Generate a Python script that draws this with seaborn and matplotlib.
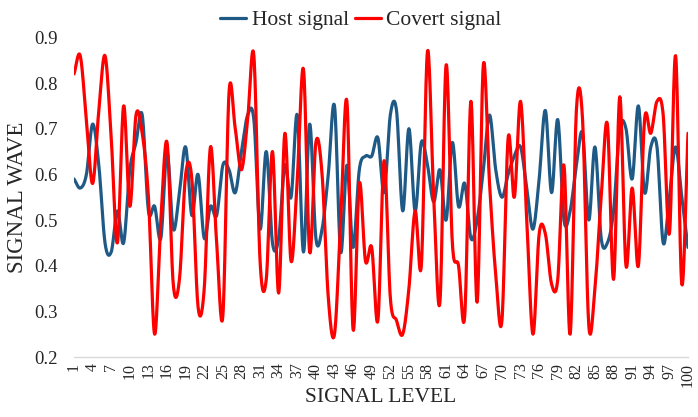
import numpy as np
import pandas as pd
import matplotlib
matplotlib.use("Agg")
import matplotlib.pyplot as plt
import seaborn as sns

levels = list(range(1, 101))

host_signal = [
    0.59, 0.57, 0.60, 0.71, 0.62, 0.45, 0.43, 0.52, 0.45, 0.61,
    0.67, 0.73, 0.52, 0.53, 0.46, 0.65, 0.48, 0.56, 0.66, 0.51,
    0.60, 0.46, 0.53, 0.51, 0.62, 0.61, 0.56, 0.65, 0.73, 0.72,
    0.48, 0.65, 0.45, 0.46, 0.62, 0.55, 0.73, 0.43, 0.71, 0.46,
    0.48, 0.60, 0.75, 0.43, 0.62, 0.44, 0.61, 0.64, 0.64, 0.68,
    0.56, 0.73, 0.74, 0.52, 0.70, 0.52, 0.67, 0.62, 0.54, 0.61,
    0.50, 0.67, 0.53, 0.58, 0.46, 0.50, 0.61, 0.73, 0.61, 0.55,
    0.60, 0.64, 0.66, 0.57, 0.48, 0.59, 0.74, 0.56, 0.72, 0.50,
    0.52, 0.62, 0.69, 0.50, 0.66, 0.46, 0.45, 0.52, 0.70, 0.70,
    0.59, 0.75, 0.56, 0.66, 0.66, 0.45, 0.55, 0.66, 0.55, 0.44,
]

covert_signal = [
    0.82, 0.86, 0.72, 0.58, 0.74, 0.86, 0.68, 0.45, 0.75, 0.53,
    0.73, 0.69, 0.55, 0.25, 0.50, 0.67, 0.36, 0.37, 0.60, 0.59,
    0.31, 0.35, 0.66, 0.45, 0.29, 0.78, 0.70, 0.61, 0.72, 0.86,
    0.41, 0.37, 0.65, 0.34, 0.69, 0.41, 0.59, 0.83, 0.43, 0.67,
    0.60, 0.33, 0.25, 0.50, 0.76, 0.26, 0.58, 0.41, 0.44, 0.28,
    0.63, 0.33, 0.28, 0.25, 0.35, 0.52, 0.40, 0.87, 0.55, 0.32,
    0.84, 0.45, 0.40, 0.29, 0.76, 0.32, 0.84, 0.58, 0.38, 0.28,
    0.68, 0.55, 0.76, 0.50, 0.25, 0.47, 0.47, 0.36, 0.37, 0.62,
    0.25, 0.74, 0.72, 0.27, 0.35, 0.55, 0.71, 0.37, 0.77, 0.40,
    0.57, 0.40, 0.72, 0.69, 0.76, 0.73, 0.47, 0.86, 0.36, 0.69,
]

series_names = ["Host signal", "Covert signal"]
tick_values = list(range(1, 101, 3))
tick_labels = [str(v) for v in tick_values]
y_ticks = [0.2, 0.3, 0.4, 0.5, 0.6, 0.7, 0.8, 0.9]
y_tick_labels = ["0.2", "0.3", "0.4", "0.5", "0.6", "0.7", "0.8", "0.9"]


def smooth_line(x, y, n=16):
    """Catmull-Rom curve through the data points (Excel-style smoothed line)."""
    x = np.asarray(x, float)
    y = np.asarray(y, float)
    yp = np.concatenate([[2 * y[0] - y[1]], y, [2 * y[-1] - y[-2]]])
    t = np.linspace(0, 1, n, endpoint=False)
    xs, ys = [], []
    for i in range(len(x) - 1):
        p0, p1, p2, p3 = yp[i], yp[i + 1], yp[i + 2], yp[i + 3]
        seg = 0.5 * (2 * p1 + (-p0 + p2) * t
                     + (2 * p0 - 5 * p1 + 4 * p2 - p3) * t ** 2
                     + (-p0 + 3 * p1 - 3 * p2 + p3) * t ** 3)
        xs.append(x[i] + (x[i + 1] - x[i]) * t)
        ys.append(seg)
    xs.append([x[-1]])
    ys.append([y[-1]])
    return np.concatenate(xs), np.concatenate(ys)


frames = []
for name, vals in zip(series_names, [host_signal, covert_signal]):
    sx, sy = smooth_line(levels, vals)
    frames.append(pd.DataFrame({"level": sx, "value": sy, "series": name}))
df = pd.concat(frames, ignore_index=True)

sns.set_style("white")
plt.rcParams["font.family"] = ["Liberation Serif", "DejaVu Serif"]

fig = plt.figure(figsize=(6.98, 4.17), dpi=100)
ax = fig.add_axes([74 / 698, 1 - 357 / 417, (688 - 74) / 698, (357 - 37.4) / 417])

palette = {"Host signal": "#1F5A87", "Covert signal": "#FF0000"}
sns.lineplot(data=df, x="level", y="value", hue="series", palette=palette,
             hue_order=series_names, linewidth=2.3, estimator=None,
             sort=False, ax=ax)

ax.set_xlim(1, 100)
ax.set_ylim(0.2, 0.9)
ax.set_xticks(tick_values)
ax.set_xticklabels(tick_labels, rotation=90, fontsize=11.5)
ax.set_yticks(y_ticks)
ax.set_yticklabels(y_tick_labels, fontsize=13.5)
ax.tick_params(axis="x", length=0, pad=4)
ax.tick_params(axis="y", length=0, pad=12)

for s in ["top", "right", "left"]:
    ax.spines[s].set_visible(False)
ax.spines["bottom"].set_color("#D9D9D9")
ax.spines["bottom"].set_linewidth(1.0)
ax.spines["bottom"].set_zorder(0)
ax.grid(False)

ax.set_xlabel("SIGNAL LEVEL", fontsize=15.5, labelpad=1)
ax.set_ylabel("SIGNAL WAVE", fontsize=16.5, labelpad=4)

handles, labels = ax.get_legend_handles_labels()
ax.get_legend().remove()
fig.legend(handles, labels, loc="center", bbox_to_anchor=(361 / 698, 1 - 20 / 417),
           ncol=2, frameon=False, fontsize=15.5, handlelength=1.2,
           handletextpad=0.25, columnspacing=0.3)

fig.savefig("out.png", dpi=100)
